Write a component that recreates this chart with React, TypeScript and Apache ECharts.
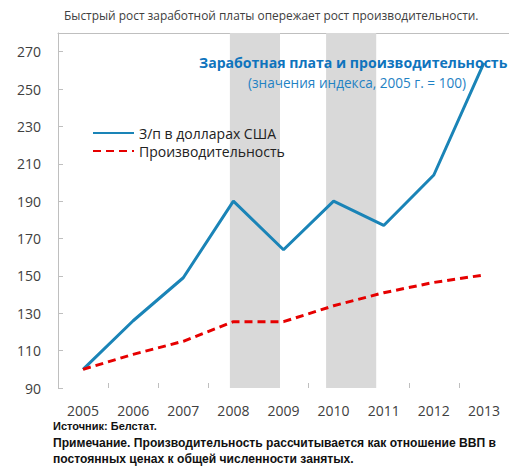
import React, { useEffect, useRef } from "react";
import * as echarts from "echarts";

const years = ["2005", "2006", "2007", "2008", "2009", "2010", "2011", "2012", "2013"];
const wages = [100, 126, 149, 190, 164, 190, 177, 204, 264];
const productivity = [100, 108, 115, 125.5, 125.5, 134, 141, 146.5, 150.5];
const bandStarts = [3.43, 5.35];
const bandEnds = [4.43, 6.35];
const wageName = "З/п в долларах США";
const prodName = "Производительность";
const headline = "Быстрый рост заработной платы опережает рост производительности.";
const innerTitle = "Заработная плата и производительность";
const innerSubtitle = "(значения индекса, 2005 г. = 100)";
const sourceNote = "Источник: Белстат.";
const remarkLines = [
  "Примечание. Производительность рассчитывается как отношение ВВП в",
  "постоянных ценах к общей численности занятых.",
];

const FONT = "'Open Sans', sans-serif";
const NOTE_FONT = "'Liberation Sans', sans-serif";

export default function App() {
  const ref = useRef<HTMLDivElement>(null);
  useEffect(() => {
    if (!ref.current) return;
    const chart = echarts.init(ref.current, null, { renderer: "svg" });
    chart.setOption({
      animation: false,
      backgroundColor: "#ffffff",
      textStyle: { fontFamily: FONT },
      title: [
        {
          text: headline,
          left: 64,
          top: 9,
          padding: 0,
          textStyle: { fontSize: 11.9, fontWeight: "normal", color: "#404040", fontFamily: FONT },
        },
        {
          text: innerTitle,
          left: 199,
          top: 55,
          padding: 0,
          textStyle: { fontSize: 14.1, fontWeight: "bold", color: "#0f74bd", fontFamily: FONT },
        },
        {
          text: innerSubtitle,
          left: 248,
          top: 75,
          padding: 0,
          textStyle: { fontSize: 13.6, fontWeight: "normal", color: "#1f82c4", fontFamily: FONT },
        },
        {
          text: sourceNote,
          left: 53,
          top: 420,
          padding: 0,
          textStyle: { fontSize: 11, lineHeight: 12, fontWeight: "bold", color: "#111", fontFamily: NOTE_FONT },
        },
        {
          text: remarkLines.join("\n"),
          left: 53,
          top: 435,
          padding: 0,
          textStyle: {
            fontSize: 12.1,
            fontWeight: "bold",
            color: "#111",
            lineHeight: 16,
            fontFamily: NOTE_FONT,
          },
        },
      ],
      legend: {
        orient: "vertical",
        left: 92,
        top: 126,
        padding: 0,
        itemWidth: 41,
        itemHeight: 14,
        itemGap: 4,
        data: [wageName, prodName],
        itemStyle: { opacity: 0 },
        textStyle: { fontSize: 14, color: "#222", fontFamily: FONT },
      },
      grid: { left: 58, top: 33, right: -8, bottom: 83, containLabel: false },
      xAxis: [
        {
          type: "category",
          data: years,
          boundaryGap: true,
          axisLine: { show: false },
          axisTick: { show: true, inside: true, length: 5, lineStyle: { color: "#bfbfbf" } },
          axisLabel: { fontSize: 14, lineHeight: 14, color: "#404040", margin: 15, fontFamily: FONT },
        },
        {
          type: "value",
          position: "top",
          min: 0,
          max: 9,
          axisLine: { show: true, lineStyle: { color: "#bfbfbf" } },
          axisTick: { show: false },
          axisLabel: { show: false },
          splitLine: { show: false },
        },
      ],
      yAxis: {
        type: "value",
        min: 90,
        max: 280,
        interval: 20,
        axisLine: { show: true, lineStyle: { color: "#bfbfbf" } },
        axisTick: { show: true, inside: true, length: 5, lineStyle: { color: "#bfbfbf" } },
        axisLabel: { fontSize: 14, color: "#404040", margin: 17, showMaxLabel: false, fontFamily: FONT },
        splitLine: { show: false },
      },
      series: [
        {
          type: "line",
          name: "bands",
          xAxisIndex: 1,
          data: [],
          z: 1,
          silent: true,
          markArea: {
            silent: true,
            itemStyle: { color: "#d9d9d9" },
            data: bandStarts.map((s, i) => [
              { xAxis: s, yAxis: 90 },
              { xAxis: bandEnds[i], yAxis: 280 },
            ]),
          },
        },
        {
          type: "line",
          name: wageName,
          data: wages,
          symbol: "none",
          z: 3,
          lineStyle: { color: "#1a84b7", width: 3 },
          itemStyle: { color: "#1a84b7" },
        },
        {
          type: "line",
          name: prodName,
          data: productivity,
          symbol: "none",
          z: 3,
          lineStyle: { color: "#e60000", width: 3, type: [8, 5] },
          itemStyle: { color: "#e60000" },
        },
      ],
    });
    return () => chart.dispose();
  }, []);
  return (
    <div
      ref={ref}
      style={{ position: "fixed", left: 0, top: 0, width: 509, height: 471, overflow: "hidden" }}
    />
  );
}
